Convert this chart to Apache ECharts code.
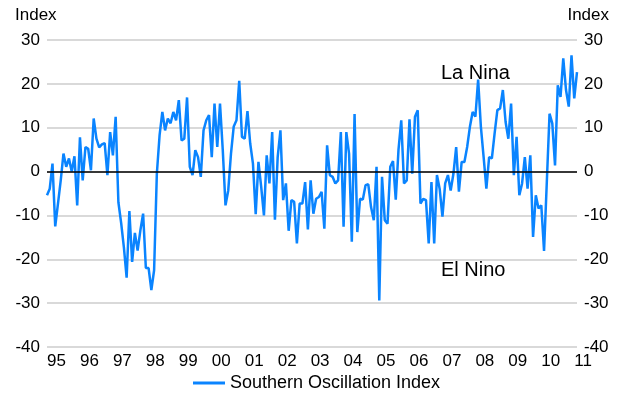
<!DOCTYPE html>
<html>
<head>
<meta charset="utf-8">
<script src="https://cdn.jsdelivr.net/npm/echarts@6/dist/echarts.min.js"></script>
<style>
  html, body { margin: 0; padding: 0; background: #ffffff; }
  #chart { width: 629px; height: 405px; }
</style>
</head>
<body>
<div id="chart"></div>
<script>
// Monthly Southern Oscillation Index, Jan 1995 to Feb 2011
const startYear = 1995;
const seriesName = 'Southern Oscillation Index';
const soi1995_1998 = [
  -5.4, -3.9, 1.8, -12.5, -7.3, -2.0, 4.1, 1.1, 3.0, 0.0, 3.5, -7.7,
  7.8, -2.0, 5.6, 5.2, 0.3, 12.1, 7.5, 5.5, 6.2, 6.5, -0.8, 9.0,
  3.7, 12.5, -7.0, -11.7, -17.3, -24.2, -9.0, -20.6, -14.0, -18.0, -13.4, -9.6,
  -22.0, -22.0, -27.0, -22.5, -0.5, 8.3, 13.6, 9.4, 12.1, 11.0, 13.6, 11.7
];
const soi1999_2002 = [
  16.3, 7.1, 7.5, 16.9, 1.1, -0.8, 4.9, 3.3, -1.2, 9.4, 11.7, 12.9,
  3.3, 15.5, 5.6, 15.5, 5.0, -7.7, -4.3, 4.1, 10.3, 11.7, 20.7, 7.9,
  7.5, 13.8, 6.4, 1.8, -9.7, 2.2, -3.5, -10.0, 3.7, -2.7, 9.0, -11.0,
  3.3, 9.4, -6.5, -2.7, -13.5, -6.5, -6.9, -16.4, -7.3, -7.3, -2.4, -13.2
];
const soi2003_2006 = [
  -2.0, -9.6, -6.2, -5.8, -4.6, -13.0, 6.0, -0.8, -1.2, -2.7, -2.0, 9.0,
  -12.6, 9.0, 4.1, -16.0, 13.1, -13.8, -6.2, -6.4, -3.1, -2.9, -8.1, -11.1,
  1.1, -29.4, -1.2, -11.1, -11.9, 1.1, 2.4, -6.4, 5.0, 11.7, -2.7, -2.0,
  11.9, -0.5, 12.5, 14.0, -7.3, -6.2, -6.5, -16.4, -2.4, -16.4, -0.8, -4.0
];
const soi2007_2011 = [
  -10.3, -2.7, -0.8, -4.3, -0.5, 5.6, -4.6, 2.2, 2.2, 5.6, 10.2, 13.6,
  12.5, 21.0, 10.2, 3.3, -3.9, 3.3, 3.0, 8.7, 14.0, 14.4, 18.6, 11.3,
  7.5, 15.5, -0.8, 7.9, -5.4, -2.7, 3.3, -3.9, 3.7, -14.9, -5.4, -8.4,
  -7.7, -18.1, -2.5, 13.2, 11.0, 1.4, 19.7, 17.0, 25.8, 18.6, 14.8, 26.5,
  16.7, 22.7
];
const soiValues = soi1995_1998.concat(soi1999_2002, soi2003_2006, soi2007_2011);

// One category per month, labelled by its two-digit year
const months = soiValues.map(function (v, i) {
  const y = startYear + Math.floor(i / 12);
  const m = (i % 12) + 1;
  return y + '-' + (m < 10 ? '0' + m : m);
});
const yearLabel = function (cat) { return cat.slice(2, 4); };

const yMin = -40, yMax = 30, yStep = 10;
const axisTitle = 'Index';
const notes = [
  { text: 'La Nina', x: 441, y: 73 },
  { text: 'El Nino', x: 441, y: 270 }
];

const font = 'Liberation Sans, Arial, sans-serif';
const lineColor = '#0a84ff';

const chart = echarts.init(document.getElementById('chart'), null, { renderer: 'canvas' });

const yAxisCommon = {
  type: 'value',
  min: yMin,
  max: yMax,
  interval: yStep,
  axisLine: { show: false },
  axisTick: { show: false },
  axisLabel: { color: '#000', fontFamily: font, fontSize: 17, margin: 7 }
};

chart.setOption({
  animation: false,
  backgroundColor: '#ffffff',
  grid: { left: 47, right: 52, top: 40, bottom: 58, containLabel: false },
  legend: {
    data: [{ name: seriesName, icon: 'rect' }],
    bottom: 8,
    left: 188,
    itemWidth: 32,
    itemHeight: 3,
    itemGap: 8,
    textStyle: { color: '#000', fontFamily: font, fontSize: 18 }
  },
  xAxis: {
    type: 'category',
    data: months,
    boundaryGap: false,
    axisLine: { show: false },
    axisTick: { show: false },
    splitLine: { show: false },
    axisLabel: {
      color: '#000',
      fontFamily: font,
      fontSize: 17,
      margin: 6,
      align: 'left',
      interval: function (idx) { return idx % 12 === 0; },
      formatter: yearLabel
    }
  },
  yAxis: [
    Object.assign({}, yAxisCommon, {
      position: 'left',
      splitLine: { show: true, lineStyle: { color: '#cccccc', width: 1.5 } }
    }),
    Object.assign({}, yAxisCommon, {
      position: 'right',
      splitLine: { show: false }
    })
  ],
  graphic: [
    { type: 'text', left: 15, top: 7, style: { text: axisTitle, fill: '#000', font: '17px ' + font } },
    { type: 'text', right: 20, top: 7, style: { text: axisTitle, fill: '#000', font: '17px ' + font } }
  ].concat(notes.map(function (n) {
    return {
      type: 'text', x: n.x, y: n.y,
      style: { text: n.text, fill: '#000', font: '20px ' + font, textVerticalAlign: 'middle' }
    };
  })),
  series: [{
    name: seriesName,
    type: 'line',
    data: soiValues,
    yAxisIndex: 0,
    showSymbol: false,
    symbol: 'none',
    lineStyle: { color: lineColor, width: 2.5 },
    itemStyle: { color: lineColor },
    markLine: {
      silent: true,
      symbol: ['none', 'none'],
      label: { show: false },
      lineStyle: { color: '#000', width: 1.5, type: 'solid' },
      data: [{ yAxis: 0 }]
    },
    z: 3
  }]
});
</script>
</body>
</html>
